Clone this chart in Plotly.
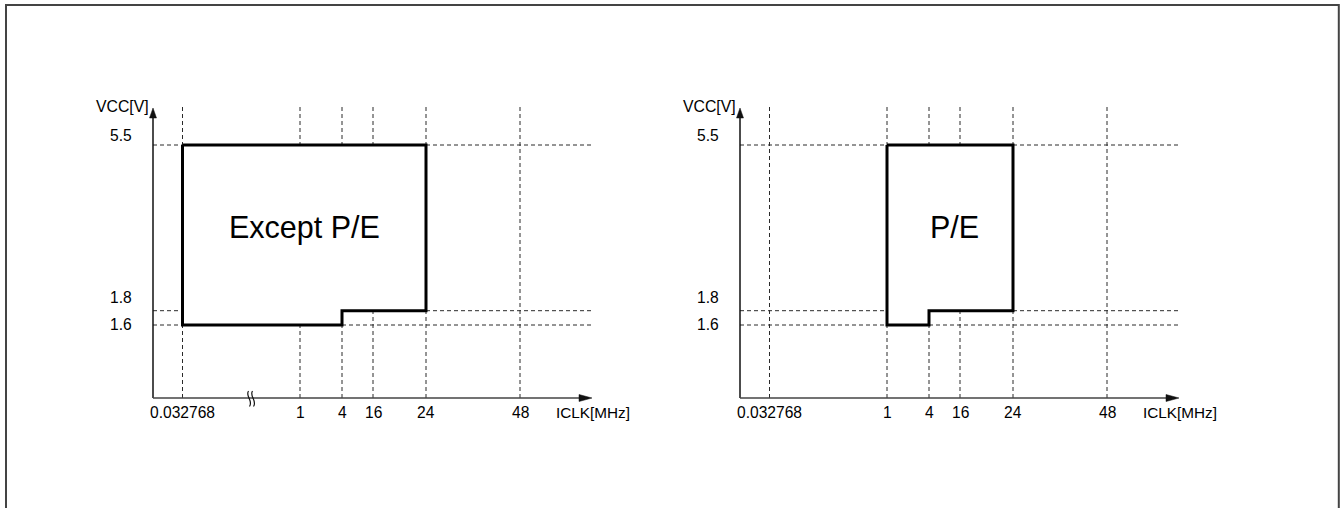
import numpy as np
import plotly.graph_objects as go

# ---------------- data ----------------
freq_ticks = [0.032768, 1, 4, 16, 24, 48]
freq_labels = ["0.032768", "1", "4", "16", "24", "48"]
vcc_ticks = [1.6, 1.8, 5.5]
vcc_labels = ["1.6", "1.8", "5.5"]

except_pe_freq = [0.032768, 24, 24, 4, 4, 0.032768, 0.032768]
except_pe_vcc = [5.5, 5.5, 1.8, 1.8, 1.6, 1.6, 5.5]
pe_freq = [1, 24, 24, 4, 4, 1, 1]
pe_vcc = [5.5, 5.5, 1.8, 1.8, 1.6, 1.6, 5.5]

panel_titles = ["Except P/E", "P/E"]
x_title = "ICLK[MHz]"
y_title = "VCC[V]"

# ------------- schematic (not-to-scale) axis layout -------------
W, H = 1341, 508
X_SLOTS = [29.5, 147, 189, 220, 273, 367]      # axis units of each freq tick
Y_VALS = [0, 1.6, 1.8, 5.5]
Y_SLOTS = [0, 73, 87.3, 253]
X_END = 440
Y_TOP = 293
X_RANGE = [-60, 470]
Y_RANGE = [-40, 310]
ORIGIN_Y = 398
ORIGINS_X = [153, 740]


def sx(f):
    return np.interp(f, freq_ticks, X_SLOTS)


def sy(v):
    return np.interp(v, Y_VALS, Y_SLOTS)


FONT = "Liberation Sans, Arial, sans-serif"
GRID = "#2a2a2a"
DASH = "4px,3px"
TXT = "#000000"
FS = 15.6

fig = go.Figure()

regions = [(except_pe_freq, except_pe_vcc), (pe_freq, pe_vcc)]
annotations = []
shapes = []

for i, (ox, (rf, rv), title) in enumerate(zip(ORIGINS_X, regions, panel_titles)):
    xa = "x" if i == 0 else "x2"
    ya = "y" if i == 0 else "y2"
    # grid lines
    gx, gy = [], []
    for f in freq_ticks:
        gx += [sx(f), sx(f), None]
        gy += [0, Y_TOP, None]
    for v in vcc_ticks:
        gx += [0, X_END, None]
        gy += [sy(v), sy(v), None]
    fig.add_trace(go.Scatter(x=gx, y=gy, mode="lines", xaxis=xa, yaxis=ya,
                             line=dict(color=GRID, width=1, dash=DASH),
                             hoverinfo="skip", showlegend=False))
    # operating region
    fig.add_trace(go.Scatter(x=sx(rf), y=sy(rv), mode="lines", fill="toself",
                             fillcolor="white", xaxis=xa, yaxis=ya,
                             line=dict(color="black", width=3),
                             hoverinfo="skip", showlegend=False))
    # axis lines and arrows
    shapes.append(dict(type="line", xref=xa, yref=ya, x0=0, y0=0, x1=0, y1=281,
                       line=dict(color="#111", width=1.5), layer="above"))
    shapes.append(dict(type="path", xref=xa, yref=ya,
                       path="M -3.5,280 L 3.5,280 L 0,290 Z",
                       fillcolor="#111", line=dict(color="#111", width=0.5)))
    shapes.append(dict(type="line", xref=xa, yref=ya, x0=0, y0=0, x1=428, y1=0,
                       line=dict(color="#444", width=1.5), layer="above"))
    shapes.append(dict(type="path", xref=xa, yref=ya,
                       path="M 426,-3.5 L 426,3.5 L 439,0 Z",
                       fillcolor="#111", line=dict(color="#111", width=0.5)))
    # tick labels
    for f, lab in zip(freq_ticks, freq_labels):
        annotations.append(dict(x=sx(f), y=0, xref=xa, yref=ya, text=lab,
                                showarrow=False, xanchor="center", yanchor="middle",
                                yshift=-14.5, font=dict(size=FS, color=TXT, family=FONT)))
    y_shift = {"1.6": 0.5, "1.8": 13.7, "5.5": 9.2}
    for v, lab in zip(vcc_ticks, vcc_labels):
        annotations.append(dict(x=0, y=sy(v), xref=xa, yref=ya, text=lab,
                                showarrow=False, xanchor="right", yanchor="middle",
                                xshift=-19, yshift=y_shift[lab],
                                font=dict(size=FS, color=TXT, family=FONT)))
    annotations.append(dict(x=0, y=291.5, xref=xa, yref=ya, text=y_title,
                            showarrow=False, xanchor="right", yanchor="middle",
                            xshift=-2.5, font=dict(size=15.8, color=TXT, family=FONT)))
    annotations.append(dict(x=X_END, y=0, xref=xa, yref=ya, text=x_title,
                            showarrow=False, xanchor="center", yanchor="middle",
                            yshift=-14.5, font=dict(size=15.3, color=TXT, family=FONT)))
    # region title
    cx = (sx(rf[0]) + sx(24)) / 2 + (0 if i == 0 else 4)
    annotations.append(dict(x=cx, y=171, xref=xa, yref=ya, text=title,
                            showarrow=False, xanchor="center", yanchor="middle",
                            font=dict(size=30.5, color="black", family=FONT)))

# axis-break mark on the left panel
for dx in (0, 4):
    shapes.append(dict(type="path", xref="x", yref="y",
                       path=f"M {95.5+dx},7 C {92+dx},2 {100.5+dx},-3 {96.5+dx},-8.5",
                       line=dict(color="#111", width=1.2)))

# outer frame
shapes.append(dict(type="rect", xref="paper", yref="paper",
                   x0=6 / W, x1=1338.8 / W, y0=-0.2, y1=(H - 5) / H,
                   line=dict(color="#444", width=2), fillcolor="rgba(0,0,0,0)"))


def xdom(ox):
    return [(ox + X_RANGE[0]) / W, (ox + X_RANGE[1]) / W]


ydom = [(H - (ORIGIN_Y - Y_RANGE[0])) / H, (H - (ORIGIN_Y - Y_RANGE[1])) / H]

axis_common = dict(visible=False, fixedrange=True)
fig.update_layout(
    width=W, height=H,
    margin=dict(l=0, r=0, t=0, b=0),
    paper_bgcolor="white", plot_bgcolor="white",
    xaxis=dict(domain=xdom(ORIGINS_X[0]), range=X_RANGE, anchor="y", **axis_common),
    yaxis=dict(domain=ydom, range=Y_RANGE, anchor="x", **axis_common),
    xaxis2=dict(domain=xdom(ORIGINS_X[1]), range=X_RANGE, anchor="y2", **axis_common),
    yaxis2=dict(domain=ydom, range=Y_RANGE, anchor="x2", **axis_common),
    annotations=annotations,
    shapes=shapes,
    showlegend=False,
)

fig.write_html("out.html", config={"displayModeBar": False},
               post_script="document.body.style.margin='0';document.body.style.overflow='hidden';")
